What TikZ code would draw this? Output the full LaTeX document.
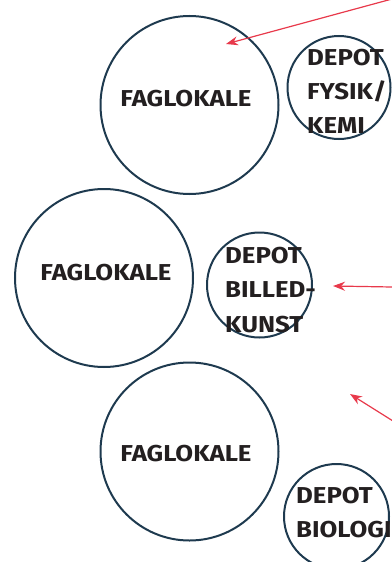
\documentclass[tikz,border=0pt]{standalone}
\usepackage{fontspec}
\setmainfont[FakeStretch=1.12]{Fira Sans}
\usetikzlibrary{arrows.meta}
\definecolor{ring}{HTML}{1E3A4F}
\definecolor{arr}{HTML}{E8394B}
\definecolor{ink}{HTML}{231F20}
\begin{document}
\begin{tikzpicture}[x=1pt,y=-1pt,
  room/.style={circle,draw=ring,line width=2pt,inner sep=0pt,minimum size=#1},
  txt/.style={font=\fontsize{23}{23}\selectfont\bfseries,text=ink,inner sep=0pt},
  lbl/.style={txt,anchor=base west},
  pointer/.style={draw=arr,line width=1.2pt,-{Stealth[length=12pt,width=9pt]}}]
\useasboundingbox (0,0) rectangle (391,562);
% large rooms
\node[room=178pt] (f1) at (189.5,105) {};
\node[room=178pt] (f2) at (104,278) {};
\node[room=178pt] (f3) at (189.5,451.5) {};
\node[txt] (t1) at (186,98.5) {FAGLOKALE};
\node[txt] (t2) at (106,273) {FAGLOKALE};
\node[txt] (t3) at (186,454) {FAGLOKALE};
% depots
\node[room=103pt] (d1) at (339,87.5) {};
\node[room=105pt] (d2) at (259.5,285) {};
\node[room=105pt] (d3) at (336.5,516.5) {};
\node[lbl] (d1a) at (307,65) {DEPOT};
\node[lbl] (d1b) at (307,99) {FYSIK/};
\node[lbl] (d1c) at (307,133) {KEMI};
\node[lbl] (d2a) at (225,263) {DEPOT};
\node[lbl] (d2b) at (225,297) {BILLED-};
\node[lbl] (d2c) at (225,332) {KUNST};
\node[lbl] (d3a) at (296,503) {DEPOT};
\node[lbl] (d3b) at (296,537) {BIOLOGI};
% pointers
\coordinate (p1) at (392,-1);
\coordinate (q1) at (226,44);
\coordinate (p2) at (392,287);
\coordinate (q2) at (333,286);
\coordinate (p3) at (393,421);
\coordinate (q3) at (350,394);
\draw[pointer] (p1) -- (q1);
\draw[pointer] (p2) -- (q2);
\draw[pointer] (p3) -- (q3);
\end{tikzpicture}
\end{document}
